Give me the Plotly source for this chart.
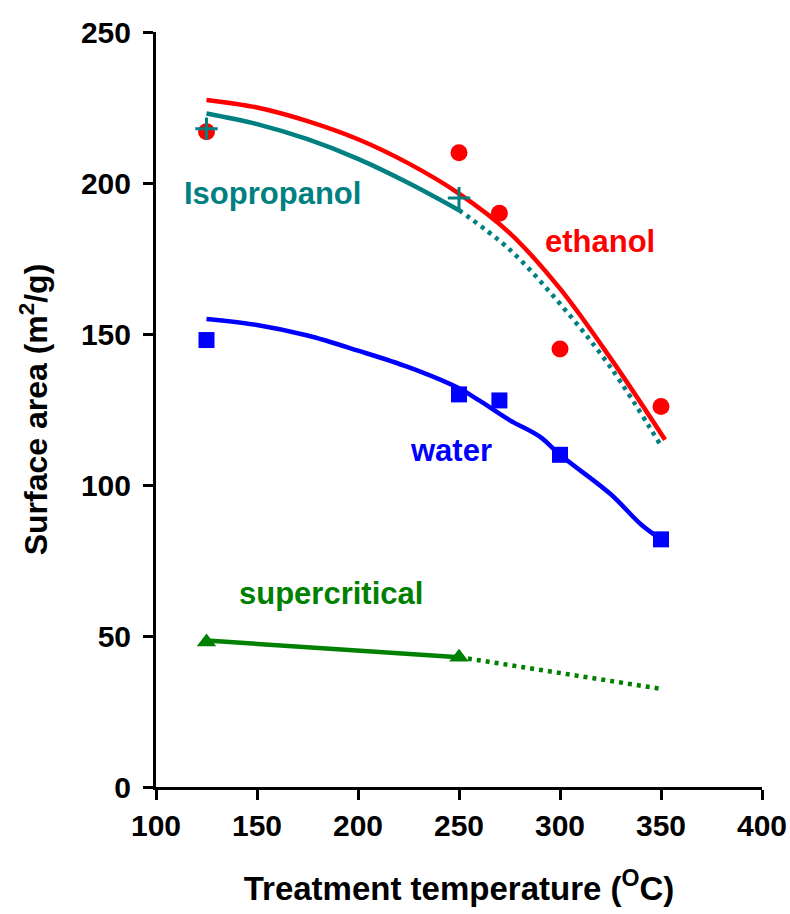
import plotly.graph_objects as go

# Measured points
eth_x = [125, 250, 270, 300, 350]
eth_y = [217, 210, 190, 145, 126]
iso_x = [125, 250]
iso_y = [218, 195]
wat_x = [125, 250, 270, 300, 350]
wat_y = [148, 130, 128, 110, 82]
sup_x = [125, 250]
sup_y = [48, 43]

# Fit curves
eth_fit_x = [125, 150, 175, 200, 225, 250, 275, 300, 325, 352]
eth_fit_y = [227.5, 225, 220.5, 214.5, 206.5, 196.5, 183.5, 165, 142, 115]
iso_fit_x = [125, 150, 175, 200, 225, 250]
iso_fit_y = [223, 219.5, 214.5, 208, 200, 191]
iso_ext_x = [250, 275, 300, 325, 350]
iso_ext_y = [191, 178, 160, 139, 113]
wat_fit_x = [125, 150, 175, 200, 225, 250, 260, 275, 290, 300, 325, 340, 350]
wat_fit_y = [155, 153, 149.5, 144.5, 139, 132, 128, 121.5, 116, 110, 97, 87, 82]
sup_fit_x = [125, 250]
sup_fit_y = [48.5, 43]
sup_ext_x = [250, 350]
sup_ext_y = [43, 32.5]

RED = "#FF0000"
BLUE = "#0000FF"
GREEN = "#008000"
TEAL = "#008080"
FONT = "Arial, Liberation Sans"
LW = 4.5

fig = go.Figure()

# fitted lines
fig.add_trace(go.Scatter(x=eth_fit_x, y=eth_fit_y, mode="lines", line=dict(color=RED, width=LW, shape="spline")))
fig.add_trace(go.Scatter(x=iso_fit_x, y=iso_fit_y, mode="lines", line=dict(color=TEAL, width=LW, shape="spline")))
fig.add_trace(go.Scatter(x=iso_ext_x, y=iso_ext_y, mode="lines", line=dict(color=TEAL, width=LW, shape="spline", dash="4px,5px")))
fig.add_trace(go.Scatter(x=wat_fit_x, y=wat_fit_y, mode="lines", line=dict(color=BLUE, width=LW, shape="spline")))
fig.add_trace(go.Scatter(x=sup_fit_x, y=sup_fit_y, mode="lines", line=dict(color=GREEN, width=LW)))
fig.add_trace(go.Scatter(x=sup_ext_x, y=sup_ext_y, mode="lines", line=dict(color=GREEN, width=LW, dash="4px,5px")))

# markers
fig.add_trace(go.Scatter(x=eth_x, y=eth_y, mode="markers", marker=dict(symbol="circle", size=17, color=RED)))
fig.add_trace(go.Scatter(x=wat_x, y=wat_y, mode="markers", marker=dict(symbol="square", size=16, color=BLUE)))
fig.add_trace(go.Scatter(x=sup_x, y=sup_y, mode="markers", marker=dict(symbol="triangle-up", size=17, color=GREEN)))
fig.add_trace(go.Scatter(x=iso_x, y=iso_y, mode="markers",
                         marker=dict(symbol="cross-thin", size=16, color=TEAL, line=dict(color=TEAL, width=3))))

labels = [
    ("Isopropanol", 157.5, 196.5, TEAL),
    ("ethanol", 320, 180.5, RED),
    ("water", 246, 111.5, BLUE),
    ("supercritical", 186.5, 64, GREEN),
]
for text, x, y, c in labels:
    fig.add_annotation(x=x, y=y, text="<b>%s</b>" % text, showarrow=False,
                       font=dict(family=FONT, size=31, color=c),
                       xanchor="center", yanchor="middle")

font_axis = dict(family=FONT, size=30, color="black")

fig.update_layout(
    width=790, height=914,
    margin=dict(l=156, r=28, t=32, b=127),
    paper_bgcolor="white", plot_bgcolor="white",
    showlegend=False,
    font=dict(family=FONT, color="black"),
)
xt = [100, 150, 200, 250, 300, 350, 400]
yt = [0, 50, 100, 150, 200, 250]
fig.update_xaxes(
    range=[100, 400], tickvals=xt,
    ticktext=["<b>%d</b>" % v for v in xt],
    showline=True, linecolor="black", linewidth=3,
    ticks="outside", ticklen=10, tickwidth=3, tickcolor="black",
    showgrid=False, zeroline=False, tickfont=font_axis, automargin=False,
    title=dict(text="<b>Treatment temperature (<sup>O</sup>C)</b>", font=dict(family=FONT, size=33), standoff=36),
)
fig.update_yaxes(
    range=[0, 250], tickvals=yt,
    ticktext=["<b>%d</b>" % v for v in yt],
    showline=True, linecolor="black", linewidth=3,
    ticks="outside", ticklen=10, tickwidth=3, tickcolor="black",
    showgrid=False, zeroline=False, tickfont=font_axis, automargin=False,
    ticklabelstandoff=6,
    title=dict(text="<b>Surface area (m<sup>2</sup>/g)</b>", font=dict(family=FONT, size=32), standoff=24),
)

fig.write_html("out.html")
